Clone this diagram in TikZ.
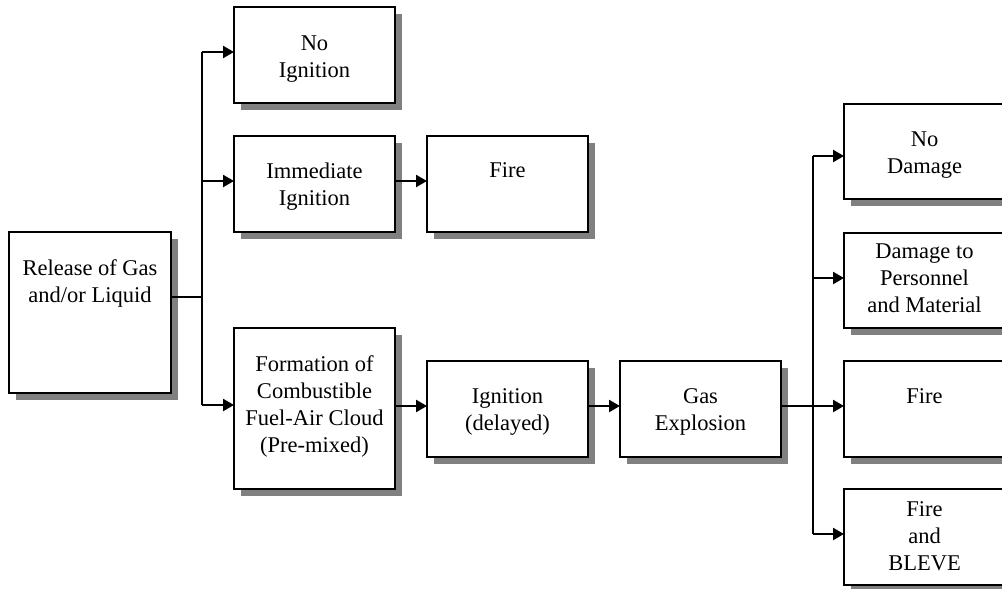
\documentclass[tikz,border=0pt]{standalone}
\usepackage{fontspec}
\setmainfont{Liberation Serif}
\usetikzlibrary{arrows.meta}
\tikzset{
  box/.style={draw=black, line width=2.8pt, fill=white, rectangle, inner sep=0pt, outer sep=0pt},
  shadowfill/.style={fill=black!50, draw=none},
  txt/.style={font=\fontsize{22.5}{27}\selectfont, align=center, anchor=base, inner sep=0pt},
  conn/.style={line width=2.4pt, -{Triangle[length=11pt,width=12pt]}},
  plainline/.style={line width=2.4pt}
}
% name, x1, y1, x2, y2, last-baseline offset, text
\newcommand\flowbox[7]{%
  \pgfmathsetmacro\fbw{#4-#2}%
  \pgfmathsetmacro\fbh{#5-#3}%
  \fill[shadowfill] ({#2+6.5},{#3+6.5}) rectangle ({#4+6.5},{#5+6.5});
  \node[box, minimum width=\fbw pt, minimum height=\fbh pt] (#1) at ({(#2+#4)/2},{(#3+#5)/2}) {};
  \node[txt] (#1-text) at ([yshift=-#6pt]#1.north) {#7};
}
\begin{document}
\begin{tikzpicture}[x=1pt,y=-1pt]
\useasboundingbox (0,0) rectangle (1002,589);

\flowbox{rel}{9}{232}{171}{393}{70}{Release of Gas\\and/or Liquid}
\flowbox{noig}{234}{7}{395}{103}{70}{No\\Ignition}
\flowbox{imig}{234}{136}{395}{232}{69}{Immediate\\Ignition}
\flowbox{fireA}{427}{136}{588}{232}{41}{Fire}
\flowbox{form}{234}{328}{395}{489}{124}{Formation of\\Combustible\\Fuel-Air Cloud\\(Pre-mixed)}
\flowbox{igd}{427}{361}{588}{457}{69}{Ignition\\(delayed)}
\flowbox{gasx}{620}{361}{781}{457}{69}{Gas\\Explosion}
\flowbox{nodam}{844}{104}{1005}{199}{69}{No\\Damage}
\flowbox{dam}{844}{233}{1005}{328}{79}{Damage to\\Personnel\\and Material}
\flowbox{fireB}{844}{361}{1005}{457}{42}{Fire}
\flowbox{bleve}{844}{489}{1005}{585}{81}{Fire\\and\\BLEVE}

% left junction
\coordinate (jA) at (202,297);
\coordinate (jAtop) at (202,52);
\coordinate (jAmid) at (202,181);
\coordinate (jAbot) at (202,405);
\draw[plainline] (rel.east |- jA) -- (jA);
\draw[plainline] (jAtop) -- (jAbot);
\draw[conn] (jAtop) -- (noig.west |- jAtop);
\draw[conn] (jAmid) -- (imig.west |- jAmid);
\draw[conn] (jAbot) -- (form.west |- jAbot);
\draw[conn] (imig.east |- jAmid) -- (fireA.west |- jAmid);

% main chain
\coordinate (row) at (500,406);
\draw[conn] (form.east |- row) -- (igd.west |- row);
\draw[conn] (igd.east |- row) -- (gasx.west |- row);
\draw[conn] (gasx.east |- row) -- (fireB.west |- row);

% right junction
\coordinate (jBtop) at (813,156);
\coordinate (jBmid) at (813,278);
\coordinate (jBbot) at (813,534);
\draw[plainline] (jBtop) -- (jBbot);
\draw[conn] (jBtop) -- (nodam.west |- jBtop);
\draw[conn] (jBmid) -- (dam.west |- jBmid);
\draw[conn] (jBbot) -- (bleve.west |- jBbot);
\end{tikzpicture}
\end{document}
